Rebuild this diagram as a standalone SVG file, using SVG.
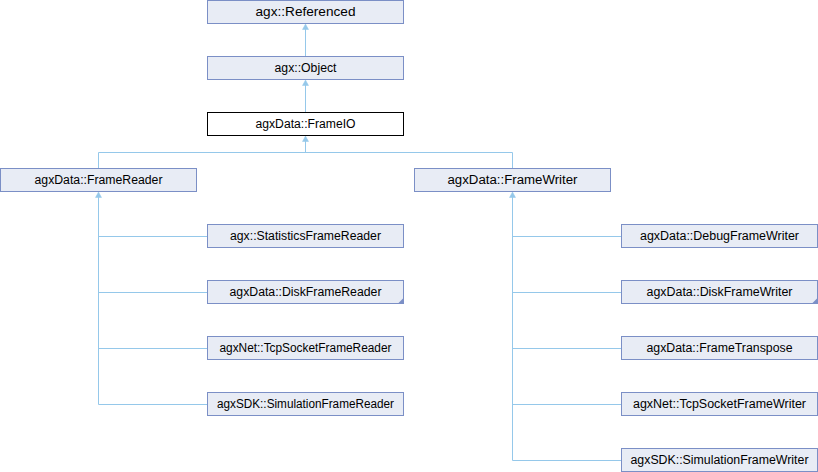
<svg xmlns="http://www.w3.org/2000/svg" width="818" height="472" viewBox="0 0 818 472">
<style>
.n rect{fill:#e8ecf5;stroke:#7b8fc6;stroke-width:1}
.n.cur rect{fill:#ffffff;stroke:#000000}
.n text{font-family:"Liberation Sans",Arial,sans-serif;font-size:12px;fill:#000;text-anchor:middle}
.c path{fill:none;stroke:#95c8ea;stroke-width:1}
.c polygon{fill:#95c8ea;stroke:#95c8ea;stroke-width:0.5}
.fold{fill:#7b8fc6}
</style>
<rect x="0" y="0" width="818" height="472" fill="#ffffff"/>
<g id="connectors" class="c">
<path d="M305.5,56.5V27"/>
<polygon points="305.5,24 302.5,29.5 308.5,29.5"/>
<path d="M305.5,112.5V83"/>
<polygon points="305.5,80 302.5,85.5 308.5,85.5"/>
<path d="M98.5,168.5V152.5H512.5V168.5M305.5,152.5V139"/>
<polygon points="305.5,136 302.5,141.5 308.5,141.5"/>
<path d="M98.5,404.5V195M98.5,236.5H207.5M98.5,292.5H207.5M98.5,348.5H207.5M98.5,404.5H207.5"/>
<polygon points="98.5,192 95.5,197.5 101.5,197.5"/>
<path d="M512.5,460.5V195M512.5,236.5H621.5M512.5,292.5H621.5M512.5,348.5H621.5M512.5,404.5H621.5M512.5,460.5H621.5"/>
<polygon points="512.5,192 509.5,197.5 515.5,197.5"/>
</g>
<g id="referenced" class="n"><rect x="207.5" y="0.5" width="196" height="23"/><text x="305.5" y="16" textLength="100" lengthAdjust="spacingAndGlyphs">agx::Referenced</text></g>
<g id="object" class="n"><rect x="207.5" y="56.5" width="196" height="23"/><text x="305.5" y="72" textLength="62" lengthAdjust="spacingAndGlyphs">agx::Object</text></g>
<g id="frameio" class="n cur"><rect x="207.5" y="112.5" width="196" height="23"/><text x="305.5" y="128" textLength="100" lengthAdjust="spacingAndGlyphs">agxData::FrameIO</text></g>
<g id="framereader" class="n"><rect x="0.5" y="168.5" width="196" height="23"/><text x="98.5" y="184" textLength="128" lengthAdjust="spacingAndGlyphs">agxData::FrameReader</text></g>
<g id="framewriter" class="n"><rect x="414.5" y="168.5" width="196" height="23"/><text x="512.5" y="184" textLength="130" lengthAdjust="spacingAndGlyphs">agxData::FrameWriter</text></g>
<g id="statisticsframereader" class="n"><rect x="207.5" y="224.5" width="196" height="23"/><text x="305.5" y="240" textLength="151" lengthAdjust="spacingAndGlyphs">agx::StatisticsFrameReader</text></g>
<g id="diskframereader" class="n"><rect x="207.5" y="280.5" width="196" height="23"/><polygon class="fold" points="397.5,304 404,297.5 404,304"/><text x="305.5" y="296" textLength="152" lengthAdjust="spacingAndGlyphs">agxData::DiskFrameReader</text></g>
<g id="tcpsocketframereader" class="n"><rect x="207.5" y="336.5" width="196" height="23"/><text x="305.5" y="352" textLength="172" lengthAdjust="spacingAndGlyphs">agxNet::TcpSocketFrameReader</text></g>
<g id="simulationframereader" class="n"><rect x="207.5" y="392.5" width="196" height="23"/><text x="305.5" y="408" textLength="177" lengthAdjust="spacingAndGlyphs">agxSDK::SimulationFrameReader</text></g>
<g id="debugframewriter" class="n"><rect x="621.5" y="224.5" width="196" height="23"/><text x="719.5" y="240" textLength="159" lengthAdjust="spacingAndGlyphs">agxData::DebugFrameWriter</text></g>
<g id="diskframewriter" class="n"><rect x="621.5" y="280.5" width="196" height="23"/><polygon class="fold" points="811.5,304 818,297.5 818,304"/><text x="719.5" y="296" textLength="146" lengthAdjust="spacingAndGlyphs">agxData::DiskFrameWriter</text></g>
<g id="frametranspose" class="n"><rect x="621.5" y="336.5" width="196" height="23"/><text x="719.5" y="352" textLength="146" lengthAdjust="spacingAndGlyphs">agxData::FrameTranspose</text></g>
<g id="tcpsocketframewriter" class="n"><rect x="621.5" y="392.5" width="196" height="23"/><text x="719.5" y="408" textLength="173" lengthAdjust="spacingAndGlyphs">agxNet::TcpSocketFrameWriter</text></g>
<g id="simulationframewriter" class="n"><rect x="621.5" y="448.5" width="196" height="23"/><text x="719.5" y="464" textLength="178" lengthAdjust="spacingAndGlyphs">agxSDK::SimulationFrameWriter</text></g>
</svg>
